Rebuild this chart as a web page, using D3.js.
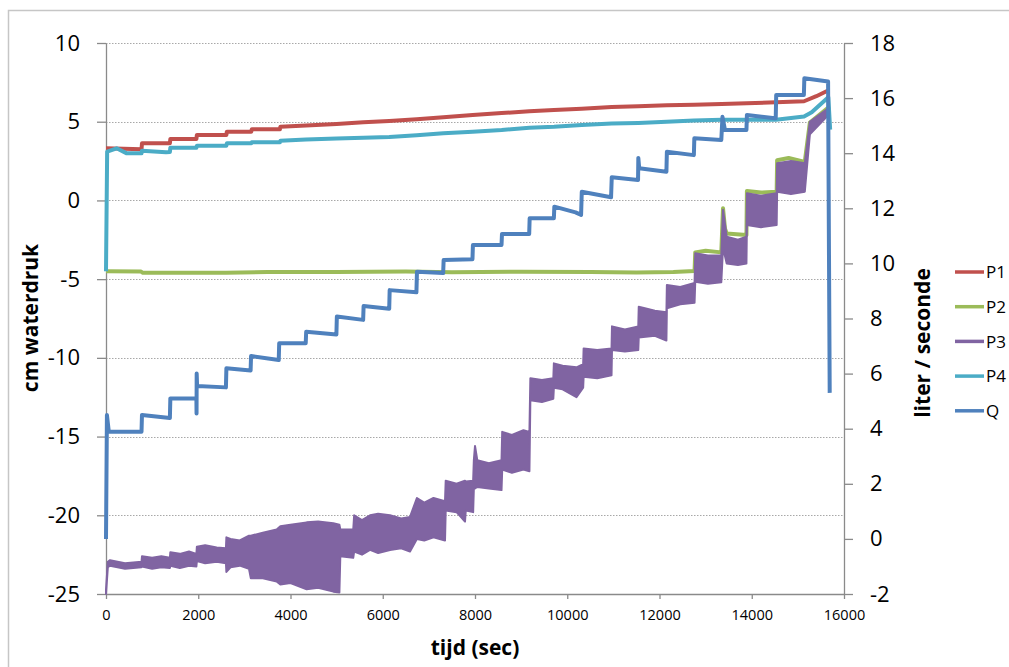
<!DOCTYPE html>
<html><head><meta charset="utf-8">
<script src="https://cdn.jsdelivr.net/npm/d3@7"></script>
<style>body{margin:0;background:#fff}svg{display:block}</style>
</head><body>
<svg id="c" width="1009" height="667"></svg>
<script>
// ---- tick labels ----
const xTicks = [0, 2000, 4000, 6000, 8000, 10000, 12000, 14000, 16000];
const leftTicks = [-25, -20, -15, -10, -5, 0, 5, 10];
const rightTicks = [-2, 0, 2, 4, 6, 8, 10, 12, 14, 16, 18];
const seriesNames = ["P1", "P2", "P3", "P4", "Q"];
const seriesColors = ["#C0504D", "#9BBB59", "#8064A2", "#4BACC6", "#4F81BD"];

// ---- P1 (cm waterdruk) ----
const p1T = [0, 770, 780, 1385, 1395, 1960, 1970, 2610, 2620, 3150, 3160, 3770, 3780, 4336, 5000, 5579, 6142, 6736, 7313, 7950, 8578, 9178, 9713, 10313, 10963, 11541, 12156, 12748, 13348, 13890, 14526, 15134, 15400, 15665];
const p1V = [3.31, 3.25, 3.63, 3.63, 3.9, 3.9, 4.16, 4.16, 4.37, 4.37, 4.52, 4.52, 4.68, 4.76, 4.86, 4.96, 5.05, 5.15, 5.28, 5.42, 5.55, 5.66, 5.74, 5.83, 5.93, 5.99, 6.04, 6.08, 6.13, 6.18, 6.23, 6.30, 6.62, 7.0];

// ---- P2 ----
const p2T = [0, 760, 800, 2600, 3500, 5000, 6500, 7500, 9000, 10500, 11500, 12300, 12760, 12775, 13000, 13340, 13377, 13420, 13457, 13885, 13895, 14200, 14540, 14550, 14800, 15150, 15260, 15660, 15675];
const p2V = [-4.5, -4.52, -4.6, -4.6, -4.55, -4.55, -4.52, -4.56, -4.53, -4.55, -4.58, -4.55, -4.48, -3.3, -3.2, -3.3, -0.5, -1.8, -2.1, -2.2, 0.6, 0.5, 0.55, 2.55, 2.7, 2.45, 4.95, 5.9, 5.4];

// ---- P3 (noisy band: low / high) ----
const p3T  = [0, 40, 87, 250, 412, 770, 780, 1000, 1200, 1385, 1395, 1600, 1800, 1960, 1970, 2150, 2400, 2600, 2610, 2700, 2900, 3100, 3140, 3400, 3700, 3780, 4000, 4350, 4600, 4928, 5060, 5080, 5360, 5380, 5550, 5724, 5900, 6157, 6400, 6591, 6740, 6900, 7100, 7350, 7365, 7600, 7783, 7800, 7960, 7975, 8000, 8050, 8300, 8575, 8590, 8800, 9050, 9180, 9200, 9450, 9698, 9710, 9900, 10200, 10345, 10355, 10650, 10960, 10970, 11250, 11540, 11550, 11900, 12150, 12160, 12450, 12760, 12775, 13050, 13340, 13377, 13457, 13700, 13885, 13895, 14200, 14540, 14550, 14850, 15150, 15260, 15660, 15685];
const p3Lo = [-25.0, -23.3, -23.2, -23.3, -23.4, -23.3, -23.25, -23.4, -23.3, -23.35, -23.2, -23.35, -23.2, -23.25, -22.9, -23.05, -22.95, -23.05, -23.6, -23.3, -23.2, -23.4, -24.0, -24.0, -24.2, -24.4, -24.3, -24.7, -24.6, -24.85, -24.9, -22.6, -22.7, -22.3, -22.5, -22.2, -22.4, -22.2, -22.1, -22.3, -21.5, -21.6, -21.4, -21.6, -19.7, -19.8, -20.4, -19.7, -19.8, -18.3, -18.3, -18.2, -18.3, -18.4, -17.1, -17.3, -17.1, -17.2, -12.7, -12.8, -12.6, -11.9, -12.0, -12.5, -11.9, -11.2, -11.3, -11.1, -9.5, -9.6, -9.5, -8.7, -8.6, -8.9, -6.85, -6.6, -6.5, -5.16, -5.3, -5.2, -3.0, -4.0, -4.1, -4.0, -1.56, -1.7, -1.56, 0.55, 0.4, 0.55, 4.2, 5.43, -9.5];
const p3Hi = [-24.7, -22.95, -22.85, -22.95, -23.05, -22.95, -22.6, -22.7, -22.6, -22.7, -22.35, -22.45, -22.3, -22.45, -22.0, -21.9, -22.05, -22.1, -21.4, -21.5, -21.6, -21.3, -21.3, -21.1, -20.9, -20.7, -20.6, -20.45, -20.4, -20.5, -20.6, -20.9, -20.9, -20.0, -20.3, -20.0, -19.9, -20.0, -20.2, -20.1, -18.9, -19.2, -18.9, -19.1, -17.8, -18.0, -17.8, -17.85, -17.8, -16.5, -15.6, -16.5, -16.7, -16.5, -14.7, -14.9, -14.6, -14.7, -11.3, -11.4, -11.3, -10.35, -10.5, -10.6, -10.4, -9.4, -9.5, -9.4, -8.0, -8.2, -8.0, -6.75, -7.0, -7.1, -5.37, -5.5, -5.24, -3.36, -3.5, -3.5, -0.6, -2.3, -2.5, -2.3, 0.45, 0.3, 0.45, 2.36, 2.5, 2.36, 5.0, 5.85, -9.0];

// ---- P4 ----
const p4T = [0, 25, 230, 450, 770, 780, 1300, 1385, 1395, 1960, 1970, 2610, 2620, 3150, 3160, 3770, 3780, 4336, 5000, 5579, 6142, 6736, 7313, 7950, 8578, 9178, 9713, 10313, 10963, 11541, 12156, 12748, 13348, 13890, 14526, 15134, 15300, 15660, 15700];
const p4V = [-4.5, 3.1, 3.31, 2.99, 2.99, 3.16, 3.06, 3.08, 3.35, 3.35, 3.48, 3.48, 3.63, 3.63, 3.69, 3.69, 3.79, 3.87, 3.93, 3.98, 4.03, 4.14, 4.26, 4.37, 4.47, 4.62, 4.68, 4.79, 4.88, 4.92, 5.0, 5.07, 5.12, 5.13, 5.13, 5.33, 5.6, 6.55, 4.5];

// ---- Q (liter / seconde) ----
const qT = [0, 20, 60, 770, 780, 1385, 1395, 1960, 1963, 1966, 1975, 2600, 2610, 3135, 3145, 3745, 3755, 4330, 4340, 4995, 5005, 5575, 5585, 6140, 6150, 6730, 6742, 7310, 7320, 7945, 7955, 8575, 8585, 9175, 9185, 9710, 9720, 10180, 10300, 10315, 10950, 10965, 11535, 11541, 11560, 12150, 12160, 12745, 12755, 13340, 13365, 13420, 13885, 13895, 14500, 14520, 14530, 15130, 15140, 15655, 15690];
const qV = [0.0, 4.5, 3.9, 3.89, 4.5, 4.39, 5.1, 5.1, 4.55, 6.0, 5.55, 5.5, 6.19, 6.11, 6.64, 6.49, 7.10, 7.10, 7.52, 7.42, 8.07, 7.95, 8.45, 8.35, 9.03, 8.95, 9.70, 9.65, 10.12, 10.15, 10.67, 10.67, 11.07, 11.07, 11.64, 11.64, 12.06, 11.85, 11.76, 12.60, 12.40, 13.13, 13.03, 13.83, 13.45, 13.33, 14.05, 13.93, 14.54, 14.48, 15.32, 14.84, 14.84, 15.39, 15.27, 15.27, 16.11, 16.11, 16.72, 16.60, 5.3];

// ---- drawing ----
const FONT = "'Open Sans', 'Noto Sans', sans-serif";
const svg = d3.select("#c");
const M = {left: 106, right: 844, top: 43, bottom: 594};
const x = d3.scaleLinear().domain([0, 16000]).range([M.left, M.right]);
const yL = d3.scaleLinear().domain([-25, 10]).range([M.bottom, M.top]);
const yR = d3.scaleLinear().domain([-2, 18]).range([M.bottom, M.top]);
const fmt = d => String(d);

// outer chart border (cropped at right/bottom)
svg.append("rect").attr("x", 8.5).attr("y", 10.5).attr("width", 1010).attr("height", 700)
  .attr("fill", "none").attr("stroke", "#c6c6c6").attr("stroke-width", 1.5);

// gridlines
svg.append("g").selectAll("line").data(leftTicks.filter(d => d > -25)).join("line")
  .attr("x1", M.left).attr("x2", M.right)
  .attr("y1", d => Math.round(yL(d)) + 0.5).attr("y2", d => Math.round(yL(d)) + 0.5)
  .attr("stroke", "#a8a8a8").attr("stroke-width", 1).attr("stroke-dasharray", "1.5,1.5");

function styleAxis(g, size) {
  g.select(".domain").attr("stroke", "#8a8a8a").attr("stroke-width", 1.3);
  g.selectAll(".tick line").attr("stroke", "#8a8a8a").attr("stroke-width", 1.3);
  g.selectAll(".tick text").attr("font-family", FONT).attr("font-size", size).attr("fill", "#000");
}

const gL = svg.append("g").attr("transform", `translate(${M.left},0)`)
  .call(d3.axisLeft(yL).tickValues(leftTicks).tickSize(9).tickSizeOuter(0).tickPadding(17).tickFormat(fmt));
styleAxis(gL, 22);
const gR = svg.append("g").attr("transform", `translate(${M.right},0)`)
  .call(d3.axisRight(yR).tickValues(rightTicks).tickSize(9).tickSizeOuter(0).tickPadding(17).tickFormat(fmt));
styleAxis(gR, 22);
const gB = svg.append("g").attr("transform", `translate(0,${M.bottom})`)
  .call(d3.axisBottom(x).tickValues(xTicks).tickSize(5).tickSizeOuter(0).tickPadding(11).tickFormat(fmt));
styleAxis(gB, 14.5);

// series
const plot = svg.append("g");
function zip(ts, vs) { return ts.map((t, i) => [t, vs[i]]); }
const lineL = d3.line().x(d => x(d[0])).y(d => yL(d[1]));
const lineR = d3.line().x(d => x(d[0])).y(d => yR(d[1]));

plot.append("path").datum(zip(p1T, p1V)).attr("d", lineL)
  .attr("fill", "none").attr("stroke", seriesColors[0]).attr("stroke-width", 4).attr("stroke-linejoin", "round");
plot.append("path").datum(zip(p2T, p2V)).attr("d", lineL)
  .attr("fill", "none").attr("stroke", seriesColors[1]).attr("stroke-width", 4).attr("stroke-linejoin", "round");
const p3Data = p3T.map((t, i) => ({t: t, lo: p3Lo[i], hi: p3Hi[i]}));
plot.append("path").datum(p3Data)
  .attr("d", d3.area().x(d => x(d.t)).y0(d => yL(d.lo)).y1(d => yL(d.hi)))
  .attr("fill", seriesColors[2]).attr("stroke", seriesColors[2]).attr("stroke-width", 2).attr("stroke-linejoin", "round");
plot.append("path").datum(zip(p4T, p4V)).attr("d", lineL)
  .attr("fill", "none").attr("stroke", seriesColors[3]).attr("stroke-width", 4).attr("stroke-linejoin", "round");
plot.append("path").datum(zip(qT, qV)).attr("d", lineR)
  .attr("fill", "none").attr("stroke", seriesColors[4]).attr("stroke-width", 4).attr("stroke-linejoin", "round");

// axis titles
svg.append("text").attr("transform", "translate(38,318) rotate(-90)").attr("text-anchor", "middle")
  .attr("font-family", FONT).attr("font-weight", "bold").attr("font-size", 21).text("cm waterdruk");
svg.append("text").attr("transform", "translate(930,343) rotate(-90)").attr("text-anchor", "middle")
  .attr("font-family", FONT).attr("font-weight", "bold").attr("font-size", 21).text("liter / seconde");
svg.append("text").attr("x", 475).attr("y", 655).attr("text-anchor", "middle")
  .attr("font-family", FONT).attr("font-weight", "bold").attr("font-size", 21).text("tijd (sec)");

// legend
const leg = svg.append("g").selectAll("g").data(seriesNames).join("g")
  .attr("transform", (d, i) => `translate(955,${272 + i * 34.7})`);
leg.append("line").attr("x1", 0).attr("x2", 29).attr("y1", 0).attr("y2", 0)
  .attr("stroke", (d, i) => seriesColors[i]).attr("stroke-width", 3.5);
leg.append("text").attr("x", 31).attr("y", 0).attr("dy", "0.36em")
  .attr("font-family", FONT).attr("font-size", 17).text(d => d);
</script>
</body></html>
